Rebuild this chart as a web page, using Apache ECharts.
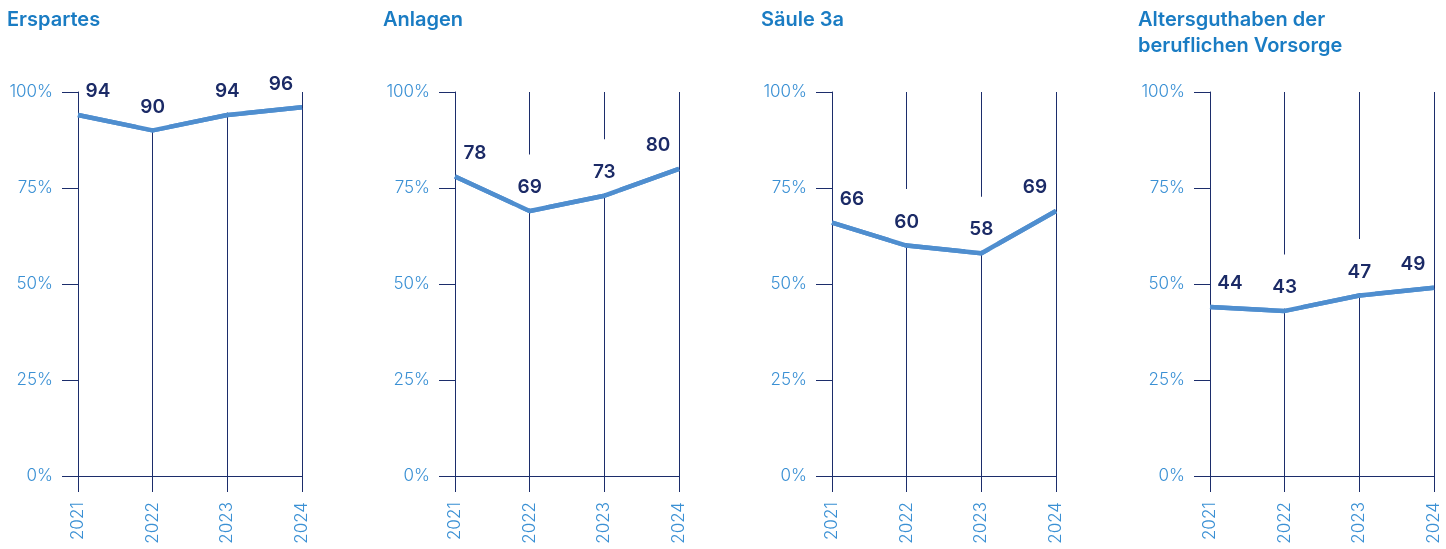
<!DOCTYPE html>
<html>
<head>
<meta charset="utf-8">
<script src="https://cdn.jsdelivr.net/npm/echarts@6/dist/echarts.min.js"></script>
<style>
  html, body { margin: 0; padding: 0; background: #fff; }
  .layer { position: absolute; left: 0; top: 0; width: 1446px; height: 549px; }
</style>
</head>
<body>
<div id="base" class="layer"></div>
<div id="labels" class="layer"></div>
<div id="lines" class="layer"></div>
<script>
// Daten
const years = ["2021", "2022", "2023", "2024"];
const titles = ["Erspartes", "Anlagen", "Säule 3a", "Altersguthaben der\nberuflichen Vorsorge"];
const erspartes = [94, 90, 94, 96];
const anlagen = [78, 69, 73, 80];
const saeule3a = [66, 60, 58, 69];
const altersguthaben = [44, 43, 47, 49];
const yTicks = [0, 25, 50, 75, 100];

const panels = [erspartes, anlagen, saeule3a, altersguthaben];

const navy = "#1c2d6b";
const blue = "#3a90d4";
const lineBlue = "#4f8ecf";
const font = "Inter, 'Noto Sans', sans-serif";

const panelLefts = [78, 455, 832, 1210];
const titleLefts = [7, 383, 761, 1138];
const panelWidth = 224;

// gemeinsame Grids / versteckte Achsen fuer die oberen Ebenen
const grids = panelLefts.map(l => ({ left: l, width: panelWidth, top: 92, bottom: 73 }));
const hiddenX = panels.map((v, i) => ({ gridIndex: i, type: "category", data: years, boundaryGap: false, show: false }));
const hiddenY = panels.map((v, i) => ({ gridIndex: i, type: "value", min: yTicks[0], max: yTicks[yTicks.length - 1], interval: 25, show: false }));

// Ebene 1: Titel, Achsen, Ticks, Gitterlinien
const base = echarts.init(document.getElementById("base"));
base.setOption({
  animation: false,
  title: panels.map((v, i) => ({
    text: titles[i],
    left: titleLefts[i],
    top: 7,
    padding: 0,
    textStyle: { color: "#1a7cc3", fontFamily: font, fontSize: 20, fontWeight: 600, lineHeight: 26 }
  })),
  grid: grids,
  xAxis: panels.map((v, i) => ({
    gridIndex: i,
    type: "category",
    data: years,
    boundaryGap: false,
    axisLine: { lineStyle: { color: navy } },
    axisTick: { show: true, length: 16, lineStyle: { color: navy } },
    axisLabel: { rotate: 90, margin: 26, color: blue, fontFamily: font, fontSize: 17, fontWeight: 300 },
    splitLine: { show: true, lineStyle: { color: navy } }
  })),
  yAxis: panels.map((v, i) => ({
    gridIndex: i,
    type: "value",
    min: yTicks[0],
    max: yTicks[yTicks.length - 1],
    interval: 25,
    axisLine: { show: true, lineStyle: { color: navy } },
    axisTick: { show: true, length: 16, lineStyle: { color: navy } },
    axisLabel: { margin: 25, color: blue, fontFamily: font, fontSize: 17, fontWeight: 300, formatter: "{value}%" },
    splitLine: { show: false }
  })),
  series: panels.map((values, i) => ({
    type: "line", xAxisIndex: i, yAxisIndex: i, data: values,
    showSymbol: false, lineStyle: { color: lineBlue, width: 4.5 }
  }))
});

// Ebene 2: Werte mit weissem Hintergrund (verdeckt die Gitterlinien)
const labels = echarts.init(document.getElementById("labels"));
labels.setOption({
  animation: false,
  backgroundColor: "transparent",
  grid: grids, xAxis: hiddenX, yAxis: hiddenY,
  series: panels.map((values, i) => ({
    type: "line",
    xAxisIndex: i,
    yAxisIndex: i,
    symbol: "circle",
    symbolSize: 1,
    showSymbol: true,
    showAllSymbol: true,
    lineStyle: { opacity: 0 },
    itemStyle: { color: "rgba(0,0,0,0)" },
    data: values.map((v, j) => ({
      value: v,
      label: { offset: [j === 0 ? 20 : (j === values.length - 1 ? -21 : 0), 0] }
    })),
    label: {
      show: true,
      position: "top",
      distance: 2,
      color: "#1b2a66",
      fontFamily: font,
      fontSize: 19,
      fontWeight: 600,
      lineHeight: 20,
      backgroundColor: "#fff",
      padding: [23, 4, 11, 4]
    }
  }))
});

// Ebene 3: Linie obenauf
const lines = echarts.init(document.getElementById("lines"));
lines.setOption({
  animation: false,
  backgroundColor: "transparent",
  grid: grids, xAxis: hiddenX, yAxis: hiddenY,
  series: panels.map((values, i) => ({
    type: "line", xAxisIndex: i, yAxisIndex: i, data: values,
    showSymbol: false, lineStyle: { color: lineBlue, width: 4.5 }
  }))
});
</script>
</body>
</html>
